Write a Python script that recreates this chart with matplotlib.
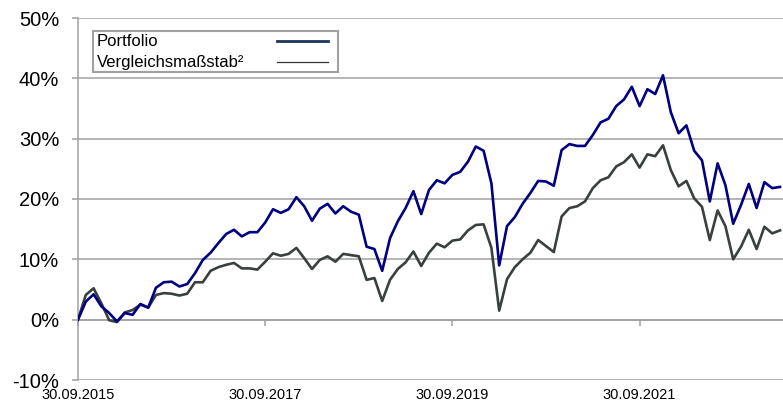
import numpy as np
import matplotlib
matplotlib.use("Agg")
import matplotlib.pyplot as plt
from matplotlib.lines import Line2D
from matplotlib.patches import Rectangle
from matplotlib.ticker import FuncFormatter

plt.rcParams['font.family'] = ['Liberation Sans', 'DejaVu Sans']

# monthly cumulative performance in %, starting 30.09.2015
portfolio = [0, 3.0, 4.2, 2.2, 1.1, -0.3, 1.1, 0.8, 2.6, 2.0, 5.3, 6.2, 6.3, 5.5, 5.9,
             7.7, 9.9, 11.1, 12.7, 14.2, 14.9, 13.8, 14.5, 14.5, 16.1, 18.3, 17.7, 18.3,
             20.3, 18.8, 16.4, 18.4, 19.2, 17.6, 18.8, 17.9, 17.4, 12.1, 11.7, 8.1, 13.5,
             16.3, 18.5, 21.3, 17.5, 21.5, 23.1, 22.6, 24.0, 24.5, 26.2, 28.7, 28.0, 22.6,
             9.0, 15.5, 17.0, 19.2, 21.0, 23.0, 22.9, 22.2, 28.1, 29.1, 28.8, 28.8, 30.6,
             32.7, 33.3, 35.4, 36.5, 38.6, 35.4, 38.2, 37.4, 40.5, 34.4, 30.9, 32.2, 28.0,
             26.4, 19.6, 25.9, 22.3, 15.9, 19.0, 22.5, 18.5, 22.8, 21.8, 22.0]
benchmark = [0, 4.1, 5.2, 2.7, -0.1, -0.4, 1.2, 1.6, 2.5, 2.0, 4.1, 4.4, 4.3, 4.0, 4.3,
             6.2, 6.2, 8.1, 8.7, 9.1, 9.4, 8.5, 8.5, 8.3, 9.6, 11.0, 10.6, 10.9, 11.9,
             10.2, 8.4, 9.9, 10.5, 9.6, 10.9, 10.7, 10.5, 6.6, 6.9, 3.1, 6.6, 8.4, 9.5,
             11.3, 8.9, 11.1, 12.6, 12.0, 13.1, 13.3, 14.8, 15.7, 15.8, 11.9, 1.5, 6.7,
             8.7, 10.0, 11.1, 13.2, 12.2, 11.2, 17.1, 18.5, 18.8, 19.6, 21.8, 23.1, 23.6,
             25.4, 26.1, 27.4, 25.2, 27.4, 27.1, 28.9, 24.8, 22.1, 23.0, 20.1, 18.7, 13.2,
             18.1, 15.5, 10.0, 12.1, 14.9, 11.7, 15.4, 14.3, 14.8]
tick_months = [0, 24, 48, 72]
tick_labels = ["30.09.2015", "30.09.2017", "30.09.2019", "30.09.2021"]
series_labels = ["Portfolio", "Vergleichsmaßstab²"]

months = np.arange(len(portfolio))
grid_col = '#a0a0a0'
W, H = 783, 405

fig = plt.figure(figsize=(W / 100, H / 100), dpi=100)
ax = fig.add_axes([78 / W, 25 / H, 705 / W, 362 / H])

ax.plot(months, benchmark, color='#3a4040', lw=1.9, zorder=3)
ax.plot(months, portfolio, color='#000080', lw=1.9, zorder=4)

ax.set_xlim(0, 705 / 7.8)
ax.set_ylim(-10, 50)
ax.set_yticks(range(-10, 51, 10))
ax.yaxis.set_major_formatter(FuncFormatter(lambda v, p: f"{v:.0f}%"))
ax.grid(axis='y', color=grid_col, lw=1.1)
ax.set_axisbelow(True)
ax.tick_params(axis='y', length=4.5, color=grid_col, width=1.1, pad=9, labelsize=14.5)

for s in ['top', 'right']:
    ax.spines[s].set_visible(False)
ax.spines['left'].set_color(grid_col)
ax.spines['left'].set_linewidth(1.1)
ax.spines['bottom'].set_position(('data', 0))
ax.spines['bottom'].set_color(grid_col)
ax.spines['bottom'].set_linewidth(1.1)

ax.set_xticks(tick_months)
ax.tick_params(axis='x', length=4.5, color=grid_col, width=1.1, labelbottom=False)
for m, lab in zip(tick_months, tick_labels):
    ax.annotate(lab, xy=(m, 0), xycoords=('data', 'axes fraction'),
                xytext=(0, -8), textcoords='offset pixels',
                ha='center', va='top', fontsize=10.5, annotation_clip=False)

# legend box: text on the left, line sample on the right
fig.add_artist(Rectangle((93 / W, 1 - 72 / H), 245 / W, 41 / H, transform=fig.transFigure,
                         facecolor='white', edgecolor=grid_col, lw=1.5, zorder=5))
legend_styles = [('#1b365d', 2.0, 41), ('#333333', 0.9, 62)]
for lab, (col, lw, yp) in zip(series_labels, legend_styles):
    fig.text(97 / W, 1 - yp / H, lab, fontsize=12, ha='left', va='center', zorder=6)
    fig.add_artist(Line2D([277 / W, 328 / W], [1 - yp / H, 1 - yp / H],
                          transform=fig.transFigure, color=col, lw=lw, zorder=6))

fig.savefig("out.png", dpi=100)
